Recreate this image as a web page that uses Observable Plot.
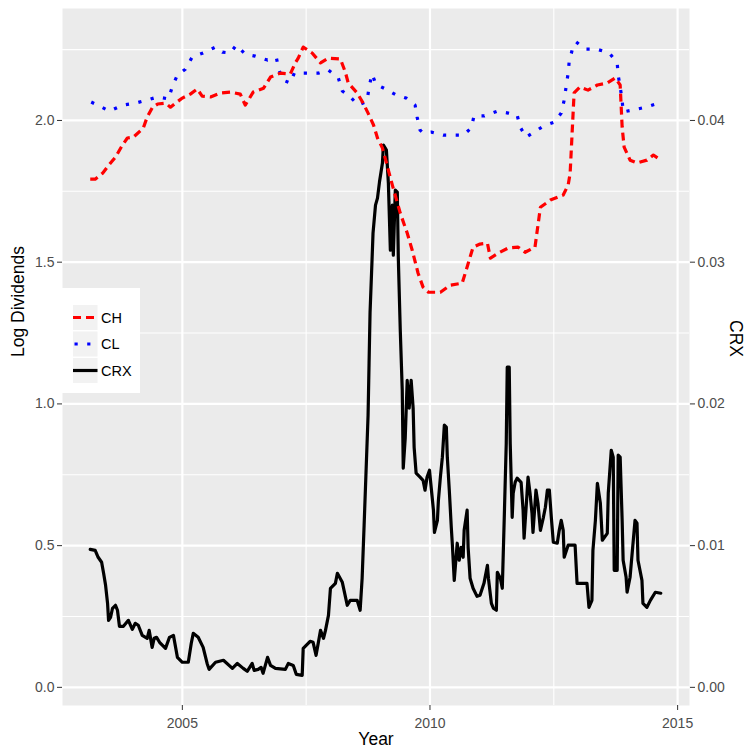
<!DOCTYPE html>
<html>
<head>
<meta charset="utf-8">
<script src="https://cdn.jsdelivr.net/npm/d3@7"></script>
<script src="https://cdn.jsdelivr.net/npm/@observablehq/plot@0.6"></script>
<style>
  body { margin: 0; background: #ffffff; }
  #chart svg { display: block; }
</style>
</head>
<body>
<div id="chart"></div>
<script>
// ---- data (year, value) ----
const CH = [[2003.14,1.793],[2003.24,1.793],[2003.39,1.814],[2003.55,1.850],[2003.65,1.871],[2003.79,1.913],[2003.89,1.938],[2004.01,1.941],[2004.21,1.973],[2004.29,2.012],[2004.40,2.047],[2004.50,2.058],[2004.66,2.061],[2004.76,2.047],[2004.86,2.061],[2005.00,2.079],[2005.16,2.093],[2005.30,2.111],[2005.40,2.086],[2005.57,2.083],[2005.77,2.097],[2005.97,2.100],[2006.17,2.093],[2006.27,2.054],[2006.43,2.100],[2006.64,2.114],[2006.78,2.153],[2006.98,2.167],[2007.18,2.164],[2007.28,2.203],[2007.34,2.220],[2007.44,2.259],[2007.62,2.238],[2007.79,2.203],[2007.95,2.220],[2008.19,2.217],[2008.29,2.171],[2008.35,2.132],[2008.53,2.097],[2008.65,2.061],[2008.75,2.026],[2008.86,1.984],[2008.94,1.938],[2009.04,1.903],[2009.24,1.772],[2009.40,1.673],[2009.54,1.603],[2009.64,1.543],[2009.76,1.461],[2009.86,1.412],[2009.97,1.394],[2010.21,1.394],[2010.41,1.419],[2010.65,1.426],[2010.75,1.483],[2010.87,1.553],[2011.01,1.564],[2011.16,1.567],[2011.22,1.514],[2011.38,1.532],[2011.58,1.550],[2011.78,1.553],[2011.92,1.535],[2012.12,1.553],[2012.23,1.694],[2012.43,1.719],[2012.69,1.737],[2012.79,1.772],[2012.83,1.814],[2012.87,1.956],[2012.91,2.097],[2013.03,2.118],[2013.19,2.107],[2013.38,2.125],[2013.58,2.132],[2013.74,2.150],[2013.84,2.125],[2013.88,1.977],[2013.92,1.906],[2014.04,1.860],[2014.18,1.850],[2014.38,1.860],[2014.51,1.878],[2014.66,1.860]];

const CL = [[2003.16,2.065],[2003.37,2.047],[2003.53,2.033],[2003.79,2.054],[2004.05,2.061],[2004.29,2.072],[2004.50,2.083],[2004.72,2.076],[2004.80,2.121],[2004.90,2.160],[2005.06,2.181],[2005.20,2.224],[2005.42,2.238],[2005.67,2.259],[2005.81,2.241],[2005.97,2.238],[2006.09,2.266],[2006.27,2.234],[2006.47,2.227],[2006.72,2.213],[2006.90,2.220],[2006.94,2.185],[2007.02,2.143],[2007.18,2.132],[2007.26,2.167],[2007.50,2.167],[2007.75,2.167],[2007.95,2.178],[2008.15,2.150],[2008.23,2.104],[2008.39,2.083],[2008.55,2.054],[2008.73,2.068],[2008.77,2.118],[2008.83,2.164],[2008.91,2.128],[2009.10,2.111],[2009.32,2.090],[2009.52,2.079],[2009.70,2.054],[2009.74,2.012],[2009.80,1.966],[2009.86,1.956],[2010.03,1.959],[2010.27,1.948],[2010.49,1.948],[2010.67,1.948],[2010.83,1.973],[2010.89,2.016],[2011.10,2.016],[2011.36,2.033],[2011.58,2.026],[2011.76,2.019],[2011.82,1.977],[2011.94,1.941],[2012.10,1.959],[2012.29,1.980],[2012.51,1.994],[2012.65,2.026],[2012.71,2.072],[2012.75,2.121],[2012.79,2.167],[2012.81,2.206],[2012.87,2.248],[2012.95,2.277],[2013.13,2.252],[2013.36,2.252],[2013.62,2.238],[2013.78,2.203],[2013.80,2.160],[2013.84,2.118],[2013.88,2.072],[2013.90,2.030],[2014.10,2.037],[2014.36,2.047],[2014.61,2.061]];

const CRX = [[2003.14,0.00974],[2003.24,0.00967],[2003.30,0.00918],[2003.37,0.00883],[2003.41,0.00805],[2003.45,0.00720],[2003.49,0.00593],[2003.51,0.00473],[2003.55,0.00494],[2003.59,0.00558],[2003.65,0.00579],[2003.69,0.00544],[2003.73,0.00431],[2003.81,0.00431],[2003.91,0.00473],[2003.99,0.00409],[2004.05,0.00452],[2004.11,0.00438],[2004.19,0.00367],[2004.29,0.00346],[2004.33,0.00402],[2004.39,0.00282],[2004.43,0.00346],[2004.48,0.00353],[2004.54,0.00318],[2004.66,0.00275],[2004.74,0.00353],[2004.82,0.00367],[2004.90,0.00212],[2005.00,0.00177],[2005.12,0.00177],[2005.18,0.00311],[2005.22,0.00381],[2005.32,0.00353],[2005.42,0.00282],[2005.50,0.00169],[2005.54,0.00127],[2005.67,0.00177],[2005.83,0.00191],[2006.01,0.00134],[2006.11,0.00169],[2006.23,0.00134],[2006.31,0.00113],[2006.41,0.00169],[2006.45,0.00120],[2006.53,0.00127],[2006.59,0.00141],[2006.63,0.00099],[2006.72,0.00212],[2006.78,0.00155],[2006.88,0.00134],[2007.08,0.00127],[2007.14,0.00169],[2007.24,0.00155],[2007.30,0.00092],[2007.42,0.00085],[2007.44,0.00275],[2007.58,0.00325],[2007.64,0.00318],[2007.70,0.00226],[2007.79,0.00402],[2007.85,0.00346],[2007.89,0.00402],[2007.95,0.00508],[2007.99,0.00699],[2008.09,0.00734],[2008.13,0.00805],[2008.23,0.00741],[2008.33,0.00579],[2008.39,0.00614],[2008.53,0.00614],[2008.59,0.00544],[2008.63,0.00770],[2008.67,0.01144],[2008.71,0.01532],[2008.75,0.01920],[2008.77,0.02287],[2008.79,0.02646],[2008.83,0.03015],[2008.85,0.03205],[2008.90,0.03403],[2008.94,0.03452],[2008.98,0.03565],[2009.04,0.03699],[2009.06,0.03827],[2009.12,0.03791],[2009.16,0.03558],[2009.20,0.03085],[2009.24,0.03403],[2009.26,0.03050],[2009.30,0.03509],[2009.34,0.03495],[2009.36,0.03036],[2009.40,0.02520],[2009.44,0.02097],[2009.46,0.01546],[2009.50,0.01758],[2009.54,0.02167],[2009.58,0.01970],[2009.62,0.02167],[2009.66,0.01970],[2009.68,0.01694],[2009.72,0.01511],[2009.80,0.01483],[2009.86,0.01461],[2009.90,0.01391],[2009.94,0.01483],[2009.99,0.01532],[2010.03,0.01391],[2010.07,0.01250],[2010.09,0.01094],[2010.15,0.01179],[2010.17,0.01320],[2010.21,0.01483],[2010.25,0.01624],[2010.29,0.01850],[2010.33,0.01836],[2010.35,0.01624],[2010.39,0.01391],[2010.43,0.01130],[2010.45,0.01017],[2010.49,0.00755],[2010.55,0.01017],[2010.59,0.00897],[2010.63,0.00988],[2010.67,0.00918],[2010.69,0.01108],[2010.75,0.01250],[2010.77,0.00988],[2010.81,0.00770],[2010.87,0.00699],[2010.95,0.00642],[2011.01,0.00650],[2011.09,0.00734],[2011.16,0.00861],[2011.18,0.00770],[2011.24,0.00593],[2011.28,0.00558],[2011.34,0.00544],[2011.36,0.00812],[2011.42,0.00770],[2011.46,0.00699],[2011.50,0.01200],[2011.54,0.01723],[2011.56,0.02259],[2011.60,0.02259],[2011.62,0.01723],[2011.66,0.01200],[2011.68,0.01370],[2011.72,0.01447],[2011.76,0.01476],[2011.84,0.01447],[2011.88,0.01250],[2011.90,0.01052],[2011.96,0.01370],[2011.98,0.01483],[2012.02,0.01370],[2012.06,0.01228],[2012.08,0.01094],[2012.14,0.01391],[2012.18,0.01299],[2012.23,0.01108],[2012.29,0.01200],[2012.33,0.01271],[2012.37,0.01391],[2012.41,0.01391],[2012.45,0.01200],[2012.49,0.01024],[2012.57,0.01017],[2012.61,0.01108],[2012.65,0.01179],[2012.69,0.01108],[2012.71,0.00918],[2012.79,0.01003],[2012.93,0.01003],[2012.97,0.00734],[2013.17,0.00734],[2013.21,0.00565],[2013.27,0.00614],[2013.29,0.00967],[2013.34,0.01179],[2013.38,0.01440],[2013.44,0.01299],[2013.48,0.01038],[2013.58,0.01087],[2013.60,0.01370],[2013.66,0.01673],[2013.70,0.01624],[2013.72,0.00826],[2013.78,0.00826],[2013.80,0.01638],[2013.84,0.01624],[2013.88,0.01179],[2013.90,0.00897],[2013.96,0.00777],[2013.98,0.00671],[2014.04,0.00777],[2014.10,0.01017],[2014.14,0.01179],[2014.18,0.01158],[2014.20,0.00897],[2014.28,0.00755],[2014.30,0.00593],[2014.38,0.00565],[2014.45,0.00614],[2014.55,0.00671],[2014.66,0.00664]];

// ---- ticks / labels ----
const yearTicks = [2005, 2010, 2015];
const yearMinor = [2007.5, 2012.5];
const leftTicks = [0, 0.5, 1.0, 1.5, 2.0];
const leftLabels = ["0.0", "0.5", "1.0", "1.5", "2.0"];
const leftMinor = [0.25, 0.75, 1.25, 1.75, 2.25];
const crxTicks = [0, 0.01, 0.02, 0.03, 0.04];
const crxLabels = ["0.00", "0.01", "0.02", "0.03", "0.04"];
const crxFactor = 50; // secondary axis: left value = CRX * 50
const seriesNames = ["CH", "CL", "CRX"];
const seriesColors = ["#FF0000", "#0000FF", "#000000"];

const font = '"Liberation Sans", Arial, sans-serif';
const tickColor = "#4D4D4D";

const chart = Plot.plot({
  width: 745,
  height: 752,
  marginLeft: 62,
  marginRight: 56,
  marginTop: 8,
  marginBottom: 47,
  style: { fontFamily: font, background: "#ffffff", overflow: "visible" },
  x: { domain: [2002.58, 2015.24] },
  y: { domain: [-0.064, 2.395] },
  marks: [
    Plot.frame({ fill: "#EBEBEB", stroke: "none" }),
    Plot.ruleY(leftMinor, { stroke: "#ffffff", strokeWidth: 1.1 }),
    Plot.ruleX(yearMinor, { stroke: "#ffffff", strokeWidth: 1.1 }),
    Plot.ruleY(leftTicks, { stroke: "#ffffff", strokeWidth: 2.2 }),
    Plot.ruleX(yearTicks, { stroke: "#ffffff", strokeWidth: 2.2 }),
    Plot.line(CRX, { x: d => d[0], y: d => d[1] * crxFactor, stroke: seriesColors[2], strokeWidth: 3.2, strokeLinejoin: "round" }),
    Plot.line(CL, { x: d => d[0], y: d => d[1], stroke: seriesColors[1], strokeWidth: 3.2, strokeDasharray: "3.2,9.5", strokeLinecap: "butt" }),
    Plot.line(CH, { x: d => d[0], y: d => d[1], stroke: seriesColors[0], strokeWidth: 3.2, strokeDasharray: "8,5", strokeLinecap: "butt" }),
    Plot.axisX({ ticks: yearTicks, tickFormat: d => String(d), tickSize: 5, tickPadding: 8, fontSize: 14, stroke: "#333333", fill: tickColor, label: null }),
    Plot.axisY({ anchor: "left", ticks: leftTicks, tickFormat: d => leftLabels[leftTicks.indexOf(d)], tickSize: 5, tickPadding: 3, fontSize: 14, stroke: "#333333", fill: tickColor, label: null }),
    Plot.axisY({ anchor: "right", ticks: crxTicks.map(t => t * crxFactor), tickFormat: d => crxLabels[Math.round(d / crxFactor * 100)], tickSize: 5, tickPadding: 3, fontSize: 14, stroke: "#333333", fill: tickColor, label: null }),
    Plot.text(["Year"], { text: d => d, frameAnchor: "bottom", dy: 39, fontSize: 17.5, fill: "#000000" }),
    Plot.text(["Log Dividends"], { text: d => d, frameAnchor: "left", dx: -44, rotate: -90, fontSize: 17.5, fill: "#000000" }),
    Plot.text(["CRX"], { text: d => d, frameAnchor: "right", dx: 46, rotate: 90, fontSize: 17.5, fill: "#000000" })
  ]
});

// ---- legend (inside the panel, left side) ----
const svg = d3.select(chart);
const lg = svg.append("g").attr("font-family", font).attr("text-anchor", "start");
lg.append("rect").attr("x", 62).attr("y", 288).attr("width", 78).attr("height", 105).attr("fill", "#ffffff");
const dashes = ["8,5", "3.2,9.5", null];
seriesNames.forEach((name, i) => {
  const y0 = 305 + i * 26.5;
  lg.append("rect").attr("x", 73).attr("y", y0).attr("width", 24.5).attr("height", 25).attr("fill", "#F2F2F2");
  const ln = lg.append("line")
    .attr("x1", 73).attr("x2", 97.5)
    .attr("y1", y0 + 12.5).attr("y2", y0 + 12.5)
    .attr("stroke", seriesColors[i]).attr("stroke-width", 3.2);
  if (dashes[i]) ln.attr("stroke-dasharray", dashes[i]).attr("stroke-dashoffset", i === 1 ? -1.5 : 0);
  lg.append("text").attr("x", 101).attr("y", y0 + 12.5)
    .attr("dy", "0.35em").attr("font-size", 14.5).attr("fill", "#000000")
    .attr("text-anchor", "start").text(name);
});

document.getElementById("chart").appendChild(chart);
</script>
</body>
</html>
